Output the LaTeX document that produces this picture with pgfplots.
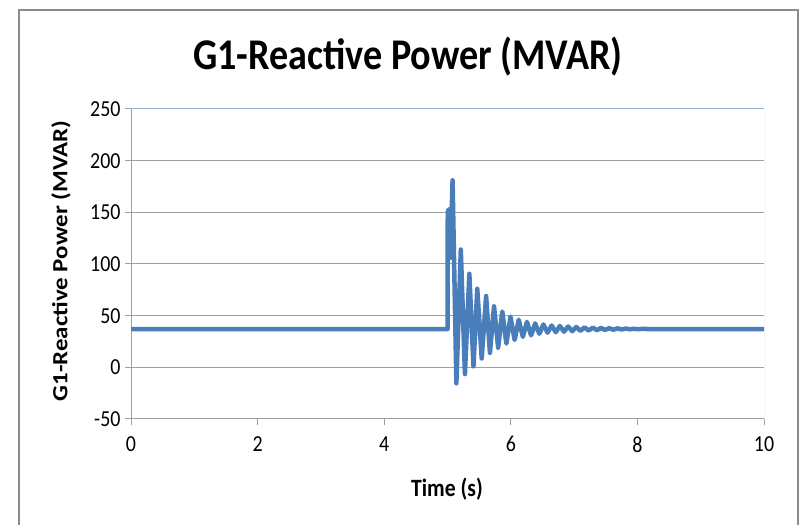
\documentclass[border=0pt]{standalone}
\usepackage{pgfplots}
\pgfplotsset{compat=1.18}
\usepackage{fontspec}
\setmainfont{Carlito}
\definecolor{series}{HTML}{4A7EBB}
\definecolor{gridc}{HTML}{A0A0A0}
\definecolor{borderblue}{HTML}{95B3D7}
\definecolor{framec}{HTML}{8C8C8C}
\begin{document}
\begin{tikzpicture}[x=1bp,y=1bp]
\useasboundingbox (0,0) rectangle (800,525);
\draw[framec, line width=2bp] (19,-5) -- (19,515) -- (798,515) -- (798,-5);
\node[font=\fontsize{44}{46}\selectfont\bfseries] at (408,468) {\scalebox{0.87}[1]{G1-Reactive Power (MVAR)}};
\node[font=\fontsize{25}{27}\selectfont\bfseries] at (447,36) {\scalebox{0.87}[1]{Time (s)}};
\node[font=\fontsize{25}{27}\selectfont\bfseries] at (61,264) {\scalebox{0.87}[1]{\rotatebox{90}{G1-Reactive Power (MVAR)}}};
\begin{axis}[
  at={(131bp,106bp)}, anchor=south west,
  scale only axis, width=633bp, height=310bp,
  xmin=0, xmax=10, ymin=-50, ymax=250,
  xtick={0,2,...,10}, ytick={-50,0,...,250},
  /pgf/number format/assume math mode=true,
  xticklabel={\scalebox{0.87}[1]{\pgfmathprintnumber{\tick}}},
  yticklabel={\scalebox{0.87}[1]{\pgfmathprintnumber{\tick}}},
  tick label style={font=\fontsize{23}{25}\selectfont},
  xticklabel style={yshift=-8bp},
  yticklabel style={xshift=-1bp},
  ymajorgrids, grid style={gridc, line width=1bp},
  axis line style={draw=none},
  tick style={gridc, line width=1bp},
  major tick length=6bp,
  xtick pos=bottom, ytick pos=left,
  tick align=outside,
  clip=true,
]
\draw[borderblue, line width=1bp] (axis cs:0,250) -- (axis cs:10,250) -- (axis cs:10,-50);
\draw[gridc, line width=1bp] (axis cs:0,250) -- (axis cs:0,-50) -- (axis cs:10,-50);
\addplot[series, line width=4.5bp, line join=round] coordinates {
(0,37) (5.0,37) (5.004,150) (5.02,153) (5.045,106) (5.08,181) (5.14,-15.5)
(5.21,114) (5.275,-6.5) (5.345,90.5) (5.41,1) (5.47,76) (5.54,8.6)
(5.61,69) (5.67,14) (5.735,59) (5.80,19) (5.865,54) (5.93,23)
(5.995,49) (6.06,26.5) (6.125,46) (6.19,29.5) (6.255,44) (6.32,31)
(6.385,42.5) (6.45,32.5) (6.515,41.5) (6.58,33.5) (6.645,40.5) (6.71,34)
(6.775,40) (6.84,34.5) (6.905,39.5) (6.97,35) (7.035,39) (7.10,35.3)
(7.165,38.7) (7.23,35.6) (7.295,38.4) (7.36,35.9) (7.425,38.1) (7.49,36.2)
(7.555,37.9) (7.62,36.4) (7.685,37.7) (7.75,36.6) (7.815,37.5) (7.88,36.8)
(7.945,37.3) (8.01,36.9) (8.075,37.2) (8.2,37) (10,37)
};
\end{axis}
\end{tikzpicture}
\end{document}
